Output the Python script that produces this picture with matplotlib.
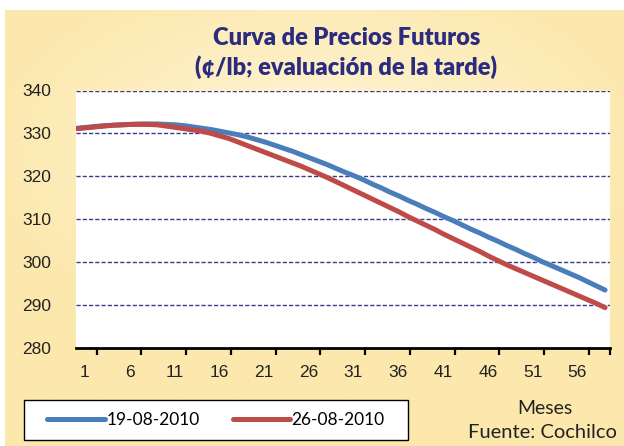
import numpy as np
import matplotlib
matplotlib.use('Agg')
import matplotlib.pyplot as plt
from matplotlib.patches import Rectangle
from matplotlib.ticker import FixedLocator, NullFormatter

# months 1..60
months = list(range(1, 61))
blue_label = '19-08-2010'
red_label = '26-08-2010'
blue_vals = [331.2, 331.4, 331.6, 331.8, 331.9, 332.0, 332.1, 332.2, 332.2, 332.2,
             332.1, 332.0, 331.8, 331.5, 331.2, 330.9, 330.5, 330.1, 329.7, 329.2,
             328.6, 328.0, 327.3, 326.6, 325.9, 325.1, 324.3, 323.5, 322.7, 321.8,
             320.9, 320.1, 319.2, 318.2, 317.3, 316.3, 315.4, 314.4, 313.5, 312.5,
             311.6, 310.6, 309.7, 308.7, 307.7, 306.8, 305.8, 304.9, 303.9, 303.0,
             302.0, 301.1, 300.1, 299.2, 298.3, 297.4, 296.5, 295.5, 294.5, 293.5]
red_vals = [331.1, 331.3, 331.5, 331.7, 331.9, 332.0, 332.1, 332.1, 332.1, 332.0,
            331.7, 331.4, 331.1, 330.8, 330.5, 330.0, 329.4, 328.8, 328.0, 327.2,
            326.4, 325.6, 324.8, 324.0, 323.2, 322.4, 321.5, 320.6, 319.7, 318.7,
            317.7, 316.7, 315.7, 314.7, 313.7, 312.7, 311.7, 310.6, 309.6, 308.6,
            307.6, 306.5, 305.5, 304.5, 303.5, 302.5, 301.4, 300.4, 299.4, 298.5,
            297.6, 296.7, 295.8, 294.9, 294.0, 293.1, 292.2, 291.3, 290.4, 289.4]
x_labels = ['1', '6', '11', '16', '21', '26', '31', '36', '41', '46', '51', '56']
y_ticks = [280, 290, 300, 310, 320, 330, 340]

title_color = '#2B2B7F'
blue = '#4A7EBB'
red = '#BE4B48'

fig = plt.figure(figsize=(6.24, 4.46), dpi=100)
fig.patch.set_facecolor('white')

# cream gradient background
bg = fig.add_axes([5 / 624, 0, 619 / 624, 436 / 446], zorder=-5)
gx, gy = np.meshgrid(np.linspace(-1, 1, 300), np.linspace(-1, 1, 220))
r = np.clip(np.sqrt((gx * 0.9) ** 2 + ((gy - 0.35) * 1.1) ** 2), 0, 1)
light = np.array([255, 246, 218]) / 255
dark = np.array([252, 232, 172]) / 255
img = light[None, None, :] * (1 - r[..., None]) + dark[None, None, :] * r[..., None]
bg.imshow(img, aspect='auto', extent=[0, 1, 0, 1], origin='lower')
bg.axis('off')

ax = fig.add_axes([76 / 624, 1 - 348 / 446, 534 / 624, 257.5 / 446])
ax.set_facecolor('white')
ax.plot(months, blue_vals, color=blue, lw=3.6, label=blue_label, solid_capstyle='round')
ax.plot(months, red_vals, color=red, lw=3.6, label=red_label, solid_capstyle='round')

ax.set_ylim(280, 340)
ax.set_xlim(0.9, 60.55)
ax.set_yticks(y_ticks)
ax.set_yticklabels([str(v) for v in y_ticks], fontsize=12.5, family='Liberation Sans', color='#222222')
ax.tick_params(axis='y', length=0, pad=18)
for v in y_ticks[1:]:
    ax.axhline(v, color='#3A3A8A', lw=1.0, ls=(0, (3, 1.5)), zorder=0)

tick_pos = [3.2 + 5 * i for i in range(12)] + [60.55]
label_pos = [1.9 + 5 * i for i in range(12)]
ax.xaxis.set_major_locator(FixedLocator(tick_pos))
ax.xaxis.set_major_formatter(NullFormatter())
ax.xaxis.set_minor_locator(FixedLocator(label_pos))
ax.set_xticklabels(x_labels, minor=True, fontsize=12.5, family='Liberation Sans', color='#222222')
ax.tick_params(axis='x', which='major', direction='out', length=5, width=1.6, color='black')
ax.tick_params(axis='x', which='minor', length=0, pad=12)

for s in ['left', 'right', 'top']:
    ax.spines[s].set_visible(False)
ax.spines['bottom'].set_linewidth(2)
ax.spines['bottom'].set_color('black')

fig.text(0.555, 1 - 38 / 446, 'Curva de Precios Futuros', ha='center', va='center',
         fontsize=17, fontweight='heavy', family='Lato', color=title_color)
fig.text(0.555, 1 - 67 / 446, '(¢/lb; evaluación de la tarde)', ha='center', va='center',
         fontsize=17, fontweight='heavy', family='Lato', color=title_color)

fig.text(545 / 624, 1 - 408 / 446, 'Meses', ha='center', va='center',
         fontsize=14, family='Lato', color='#222222')
fig.text(542 / 624, 1 - 433 / 446, 'Fuente: Cochilco', ha='center', va='center',
         fontsize=14.5, family='Lato', color='#222222')

# legend box
fig.patches.append(Rectangle((24 / 624, 1 - 440 / 446), 384 / 624, 40 / 446,
                             transform=fig.transFigure, facecolor='white',
                             edgecolor='black', lw=1.0, zorder=5))
leg = fig.legend(loc='center', bbox_to_anchor=(216 / 624, 1 - 420 / 446),
                 ncol=2, frameon=False, handlelength=3.3,
                 handletextpad=0.1, columnspacing=1.9, borderaxespad=0,
                 prop={'family': 'Lato', 'size': 12.5})
leg.set_zorder(6)

fig.savefig('out.png', dpi=100)
